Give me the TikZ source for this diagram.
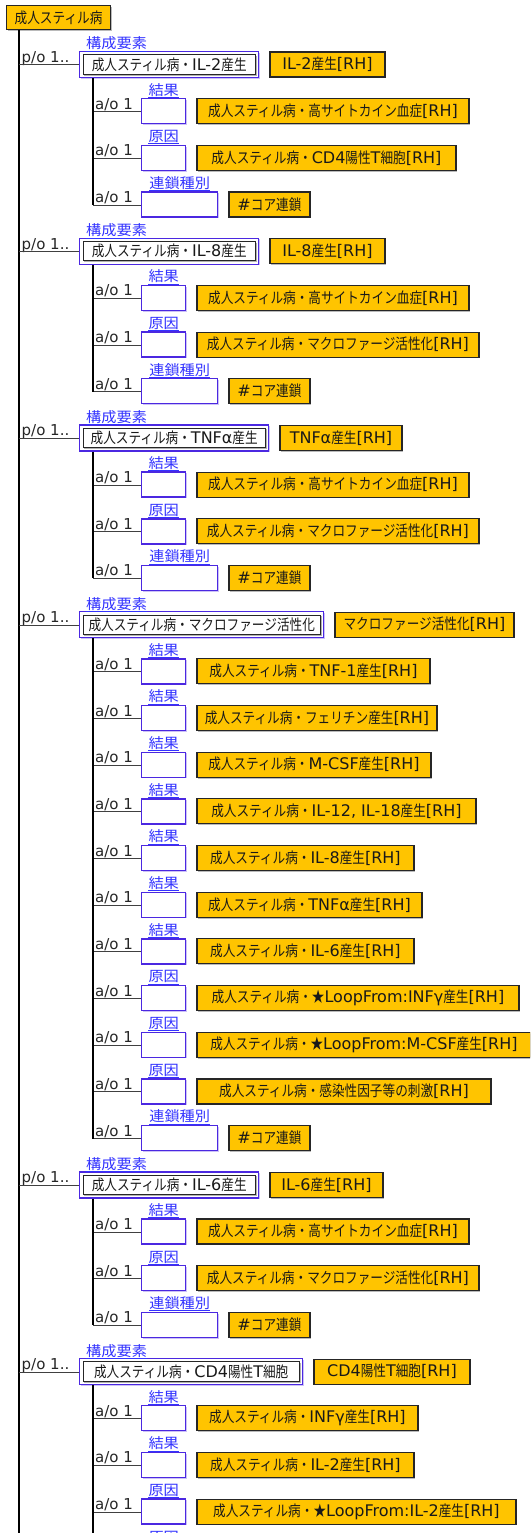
\documentclass[tikz,border=0pt]{standalone}
\usepackage{fontspec}
\setmainfont{DejaVu Sans}
\newfontface\jpbox[Scale=0.94,FakeStretch=0.84]{Noto Sans CJK JP}
\newfontface\jpwide[FakeStretch=1.07]{Noto Sans CJK JP}
\newcommand\jpsel{\jpbox}
\newcommand\latfont{\normalfont}
\XeTeXinterchartokenstate=1
\newXeTeXintercharclass\jpclass
\newcount\jpc
\jpc="3000
\loop
  \XeTeXcharclass\jpc=\jpclass
  \advance\jpc by 1
\ifnum\jpc<"A000
\repeat
\XeTeXcharclass"2605=\jpclass
\XeTeXinterchartoks 0 \jpclass={\jpsel}
\XeTeXinterchartoks 4095 \jpclass={\jpsel}
\XeTeXinterchartoks \jpclass 0={\latfont}
\XeTeXinterchartoks \jpclass 4095={\latfont}
\usetikzlibrary{shadows}
\definecolor{orfill}{RGB}{255,196,0}
\definecolor{lblue}{RGB}{51,51,255}
\definecolor{bborder}{RGB}{75,40,225}
\definecolor{lgrey}{RGB}{64,64,64}
\tikzset{
  boxtext/.style={font=\fontsize{16}{18}\selectfont},
  orbox/.style={boxtext, draw=black!85, line width=1.1pt, fill=orfill, text=black!90,
    minimum height=25pt, inner xsep=4pt, inner ysep=0pt,
    drop shadow={shadow xshift=1.3pt,shadow yshift=-1.3pt,fill=black!45,opacity=0.6}},
  hdrbox/.style={boxtext, draw=bborder, line width=1.4pt, fill=white, text=black!90,
    minimum height=26pt, inner xsep=7pt, inner ysep=0pt,
    drop shadow={shadow xshift=1.2pt,shadow yshift=-1.2pt,fill=bborder!40,opacity=0.7}},
  ebox/.style={draw=bborder, line width=1.4pt, fill=white, minimum height=25pt, inner sep=0pt,
    drop shadow={shadow xshift=1.2pt,shadow yshift=-1.2pt,fill=bborder!40,opacity=0.7}},
  inbox/.style={draw=black!85, line width=0.9pt},
  inshadow/.style={draw=black!30, line width=0.9pt},
  lbl/.style={font={\fontsize{14.2}{16}\selectfont\def\jpsel{\jpwide}}, text=lblue,
    inner xsep=0pt, inner ysep=0.8pt},
  uline/.style={draw=lblue, line width=0.8pt},
  aolbl/.style={font=\fontsize{15}{17}\selectfont, text=black!85, inner sep=0pt, anchor=base west},
  hline/.style={draw=lgrey, line width=1pt},
  trunk/.style={draw=black, line width=2pt},
}
\newcommand\Yof[1]{\pgfmathsetmacro\Y{65+46.68*#1}\pgfmathsetmacro\Yc{\Y-0.5}}
\newcommand\hdr[5]{%
  \Yof{#1}%
  \coordinate (t#1) at (19,\Y);
  \node[hdrbox, minimum width=#3pt, anchor=west] (h#1) at (79,\Yc) {#2};
  \draw[inshadow] ([shift={(-3,5)}]h#1.north east) -- ([shift={(-3,-3)}]h#1.south east) -- ([shift={(5,-3)}]h#1.south west);
  \draw[inbox] ([shift={(4,4)}]h#1.north west) rectangle ([shift={(-4,-4)}]h#1.south east);
  \node[lbl, anchor=south west] (l#1) at (86,\Y-13.8) {構成要素};
  \draw[uline] (l#1.south west) -- (l#1.south east);
  \node[orbox, minimum width=#5pt, anchor=west] (o#1) at ([xshift=10pt]h#1.east) {#4};
  \node[aolbl] (p#1) at (21.5,\Y-2.5) {p/o 1..};
  \draw[hline] (t#1) -- (t#1 -| h#1.west);
}
\newcommand\chd[5]{%
  \Yof{#1}%
  \coordinate (s#1) at (93,\Y);
  \node[ebox, minimum width=#5pt, anchor=west] (b#1) at (141,\Yc) {};
  \node[lbl, anchor=south] (l#1) at ([yshift=0.8pt]b#1.north) {#2};
  \draw[uline] (l#1.south west) -- (l#1.south east);
  \node[orbox, minimum width=#4pt, anchor=west] (o#1) at ([xshift=10pt]b#1.east) {#3};
  \node[aolbl] (a#1) at (95,\Y-2.5) {a/o 1};
  \draw[hline] (s#1) -- (s#1 -| b#1.west);
}
\begin{document}
\begin{tikzpicture}[x=1pt,y=-1pt]
\useasboundingbox (0,0) rectangle (530,1533);
\fill[white] (0,0) rectangle (530,1533);
\clip (0,0) rectangle (530,1533);
\node[orbox, minimum width=104pt, minimum height=24pt, anchor=north west] (root) at (6,5) {成人スティル病};
\coordinate (tEnd) at (19,1545);
\draw[trunk] (root.south -| tEnd) -- (tEnd);
% group 1
\hdr{0}{成人スティル病・IL-2産生}{179}{IL-2産生[RH]}{115}
\chd{1}{結果}{成人スティル病・高サイトカイン血症[RH]}{272}{44}
\chd{2}{原因}{成人スティル病・CD4陽性T細胞[RH]}{259}{44}
\chd{3}{連鎖種別}{\#コア連鎖}{81}{76}
\draw[trunk] (h0.south -| s3) -- (s3);
% group 2
\hdr{4}{成人スティル病・IL-8産生}{179}{IL-8産生[RH]}{115}
\chd{5}{結果}{成人スティル病・高サイトカイン血症[RH]}{272}{44}
\chd{6}{原因}{成人スティル病・マクロファージ活性化[RH]}{282}{44}
\chd{7}{連鎖種別}{\#コア連鎖}{81}{76}
\draw[trunk] (h4.south -| s7) -- (s7);
% group 3
\hdr{8}{成人スティル病・TNFα産生}{189}{TNFα産生[RH]}{122}
\chd{9}{結果}{成人スティル病・高サイトカイン血症[RH]}{272}{44}
\chd{10}{原因}{成人スティル病・マクロファージ活性化[RH]}{282}{44}
\chd{11}{連鎖種別}{\#コア連鎖}{81}{76}
\draw[trunk] (h8.south -| s11) -- (s11);
% group 4
\hdr{12}{成人スティル病・マクロファージ活性化}{244}{マクロファージ活性化[RH]}{179}
\chd{13}{結果}{成人スティル病・TNF-1産生[RH]}{233}{44}
\chd{14}{結果}{成人スティル病・フェリチン産生[RH]}{240}{44}
\chd{15}{結果}{成人スティル病・M-CSF産生[RH]}{234}{44}
\chd{16}{結果}{成人スティル病・IL-12, IL-18産生[RH]}{279}{44}
\chd{17}{結果}{成人スティル病・IL-8産生[RH]}{217}{44}
\chd{18}{結果}{成人スティル病・TNFα産生[RH]}{225}{44}
\chd{19}{結果}{成人スティル病・IL-6産生[RH]}{217}{44}
\chd{20}{原因}{成人スティル病・★LoopFrom:INFγ産生[RH]}{322}{44}
\chd{21}{原因}{成人スティル病・★LoopFrom:M-CSF産生[RH]}{334}{44}
\chd{22}{原因}{成人スティル病・感染性因子等の刺激[RH]}{294}{44}
\chd{23}{連鎖種別}{\#コア連鎖}{81}{76}
\draw[trunk] (h12.south -| s23) -- (s23);
% group 5
\hdr{24}{成人スティル病・IL-6産生}{179}{IL-6産生[RH]}{113}
\chd{25}{結果}{成人スティル病・高サイトカイン血症[RH]}{272}{44}
\chd{26}{原因}{成人スティル病・マクロファージ活性化[RH]}{282}{44}
\chd{27}{連鎖種別}{\#コア連鎖}{81}{76}
\draw[trunk] (h24.south -| s27) -- (s27);
% group 6
\hdr{28}{成人スティル病・CD4陽性T細胞}{223}{CD4陽性T細胞[RH]}{156}
\chd{29}{結果}{成人スティル病・INFγ産生[RH]}{221}{44}
\chd{30}{結果}{成人スティル病・IL-2産生[RH]}{217}{44}
\chd{31}{原因}{成人スティル病・★LoopFrom:IL-2産生[RH]}{319}{44}
\Yof{32}
\node[ebox, minimum width=44pt, anchor=west] (b32) at (141,\Yc) {};
\node[lbl, anchor=south] (l32) at ([yshift=0.8pt]b32.north) {原因};
\coordinate (sEnd) at (93,1545);
\draw[trunk] (h28.south -| sEnd) -- (sEnd);
\end{tikzpicture}
\end{document}
